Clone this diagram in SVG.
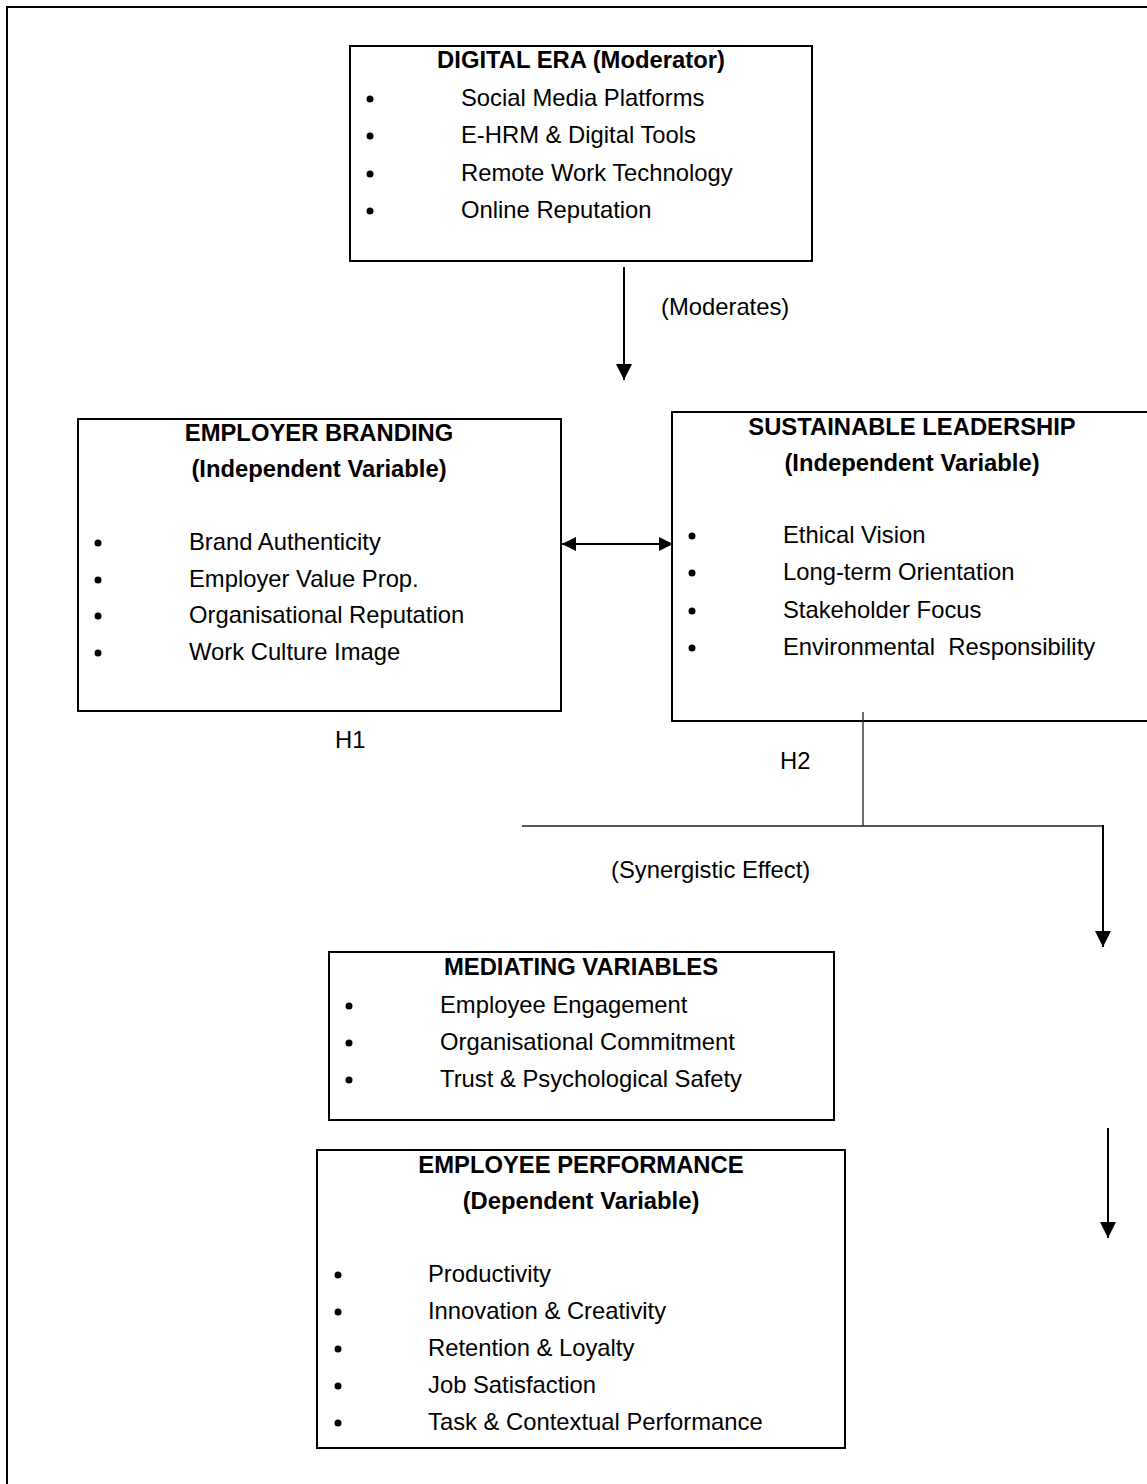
<svg xmlns="http://www.w3.org/2000/svg" width="1147" height="1484" viewBox="0 0 1147 1484">
<style>
.box{fill:#fff;stroke:#000;stroke-width:2}
.t{font-family:"Liberation Sans",Arial,sans-serif;font-size:23.8px;fill:#000}
.b{font-family:"Liberation Sans",Arial,sans-serif;font-size:23.8px;font-weight:bold;fill:#000;text-anchor:middle}
.conn{stroke:#000;stroke-width:2;fill:none}
.thin{stroke:#222;stroke-width:1.3;fill:none}
.dot{fill:#000}
</style>
<defs>
<marker id="ah" viewBox="0 0 16 16" refX="16" refY="8" markerWidth="16" markerHeight="16" markerUnits="userSpaceOnUse" orient="auto-start-reverse">
<path d="M0,0 L16,8 L0,16 z" fill="#000"/>
</marker>
<marker id="ahs" viewBox="0 0 14 14" refX="14" refY="7" markerWidth="14" markerHeight="14" markerUnits="userSpaceOnUse" orient="auto-start-reverse">
<path d="M0,0 L14,7 L0,14 z" fill="#000"/>
</marker>
</defs>
<rect width="1147" height="1484" fill="#fff"/>
<path d="M7,1484 V7 H1147" fill="none" stroke="#000" stroke-width="2"/>

<g id="digital-era">
<rect class="box" x="350" y="46" width="462" height="215"/>
<text class="b" x="581" y="68">DIGITAL ERA (Moderator)</text>
<circle class="dot" cx="370" cy="99" r="3.5"/><text class="t" x="461" y="106">Social Media Platforms</text>
<circle class="dot" cx="370" cy="136" r="3.5"/><text class="t" x="461" y="143">E-HRM &amp; Digital Tools</text>
<circle class="dot" cx="370" cy="174" r="3.5"/><text class="t" x="461" y="181">Remote Work Technology</text>
<circle class="dot" cx="370" cy="211" r="3.5"/><text class="t" x="461" y="218">Online Reputation</text>
</g>

<g id="employer-branding">
<rect class="box" x="78" y="419" width="483" height="292"/>
<text class="b" x="319" y="441">EMPLOYER BRANDING</text>
<text class="b" x="319" y="477">(Independent Variable)</text>
<circle class="dot" cx="98" cy="543" r="3.5"/><text class="t" x="189" y="550">Brand Authenticity</text>
<circle class="dot" cx="98" cy="580" r="3.5"/><text class="t" x="189" y="587">Employer Value Prop.</text>
<circle class="dot" cx="98" cy="616" r="3.5"/><text class="t" x="189" y="623">Organisational Reputation</text>
<circle class="dot" cx="98" cy="653" r="3.5"/><text class="t" x="189" y="660">Work Culture Image</text>
</g>

<g id="sustainable-leadership">
<rect class="box" x="672" y="412" width="500" height="309"/>
<text class="b" x="912" y="435">SUSTAINABLE LEADERSHIP</text>
<text class="b" x="912" y="471">(Independent Variable)</text>
<circle class="dot" cx="692" cy="536" r="3.5"/><text class="t" x="783" y="543">Ethical Vision</text>
<circle class="dot" cx="692" cy="573" r="3.5"/><text class="t" x="783" y="580">Long-term Orientation</text>
<circle class="dot" cx="692" cy="611" r="3.5"/><text class="t" x="783" y="618">Stakeholder Focus</text>
<circle class="dot" cx="692" cy="648" r="3.5"/><text class="t" x="783" y="655" xml:space="preserve">Environmental  Responsibility</text>
</g>

<g id="mediating-variables">
<rect class="box" x="329" y="952" width="505" height="168"/>
<text class="b" x="581" y="975">MEDIATING VARIABLES</text>
<circle class="dot" cx="349" cy="1006" r="3.5"/><text class="t" x="440" y="1013">Employee Engagement</text>
<circle class="dot" cx="349" cy="1043" r="3.5"/><text class="t" x="440" y="1050">Organisational Commitment</text>
<circle class="dot" cx="349" cy="1080" r="3.5"/><text class="t" x="440" y="1087">Trust &amp; Psychological Safety</text>
</g>

<g id="employee-performance">
<rect class="box" x="317" y="1150" width="528" height="298"/>
<text class="b" x="581" y="1173">EMPLOYEE PERFORMANCE</text>
<text class="b" x="581" y="1209">(Dependent Variable)</text>
<circle class="dot" cx="338" cy="1275" r="3.5"/><text class="t" x="428" y="1282">Productivity</text>
<circle class="dot" cx="338" cy="1312" r="3.5"/><text class="t" x="428" y="1319">Innovation &amp; Creativity</text>
<circle class="dot" cx="338" cy="1349" r="3.5"/><text class="t" x="428" y="1356">Retention &amp; Loyalty</text>
<circle class="dot" cx="338" cy="1386" r="3.5"/><text class="t" x="428" y="1393">Job Satisfaction</text>
<circle class="dot" cx="338" cy="1423" r="3.5"/><text class="t" x="428" y="1430">Task &amp; Contextual Performance</text>
</g>

<g id="connectors">
<line class="conn" x1="624" y1="267" x2="624" y2="380" marker-end="url(#ah)"/>
<line class="conn" x1="562" y1="544" x2="673" y2="544" marker-start="url(#ahs)" marker-end="url(#ahs)"/>
<line class="thin" x1="863" y1="712" x2="863" y2="826"/>
<line class="thin" x1="522" y1="826" x2="1103" y2="826"/>
<line class="conn" x1="1103" y1="825" x2="1103" y2="947" marker-end="url(#ah)"/>
<line class="conn" x1="1108" y1="1128" x2="1108" y2="1238" marker-end="url(#ah)"/>
</g>

<g id="labels">
<text class="t" x="661" y="315">(Moderates)</text>
<text class="t" x="335" y="748">H1</text>
<text class="t" x="780" y="769">H2</text>
<text class="t" x="611" y="878">(Synergistic Effect)</text>
</g>
</svg>
